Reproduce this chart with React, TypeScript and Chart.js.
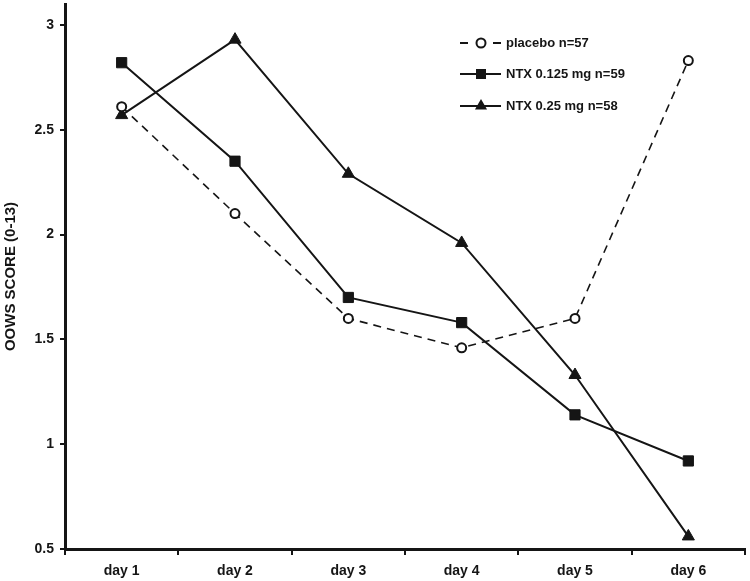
import React, { useEffect, useRef } from "react";
import { Chart, registerables } from "chart.js";

Chart.register(...registerables);

const categories = ["day 1", "day 2", "day 3", "day 4", "day 5", "day 6"];
const placebo = [2.61, 2.1, 1.6, 1.46, 1.6, 2.83];
const ntx0125 = [2.82, 2.35, 1.7, 1.58, 1.14, 0.92];
const ntx025 = [2.57, 2.93, 2.29, 1.96, 1.33, 0.56];
const seriesLabels = ["placebo n=57", "NTX 0.125 mg n=59", "NTX 0.25 mg n=58"];
const yTitle = "OOWS SCORE (0-13)";

const INK = "#151515";
const FONT = "'Liberation Sans', Arial, sans-serif";

function drawMarker(ctx: CanvasRenderingContext2D, kind: string, x: number, y: number) {
  ctx.save();
  ctx.setLineDash([]);
  ctx.strokeStyle = INK;
  ctx.fillStyle = INK;
  ctx.lineWidth = 2;
  ctx.beginPath();
  if (kind === "circle") {
    ctx.fillStyle = "#fff";
    ctx.arc(x, y, 4.5, 0, Math.PI * 2);
    ctx.fill();
    ctx.stroke();
  } else if (kind === "rect") {
    ctx.rect(x - 5, y - 5, 10, 10);
    ctx.fill();
  } else {
    const r = 7;
    ctx.moveTo(x, y - r);
    ctx.lineTo(x + r * 0.866, y + r * 0.5);
    ctx.lineTo(x - r * 0.866, y + r * 0.5);
    ctx.closePath();
    ctx.fill();
  }
  ctx.restore();
}

const legendPlugin = {
  id: "customLegend",
  afterDraw(chart: any) {
    const ctx: CanvasRenderingContext2D = chart.ctx;
    const rows = [
      { label: seriesLabels[0], kind: "circle", dashed: true, y: 43 },
      { label: seriesLabels[1], kind: "rect", dashed: false, y: 74 },
      { label: seriesLabels[2], kind: "triangle", dashed: false, y: 106 },
    ];
    const x0 = 460;
    const x1 = 501;
    const xm = 481;
    rows.forEach((r) => {
      ctx.save();
      ctx.strokeStyle = INK;
      ctx.lineWidth = 2;
      ctx.beginPath();
      if (r.dashed) {
        ctx.moveTo(x0, r.y);
        ctx.lineTo(x0 + 8, r.y);
        ctx.moveTo(x1 - 8, r.y);
        ctx.lineTo(x1, r.y);
      } else {
        ctx.moveTo(x0, r.y);
        ctx.lineTo(x1, r.y);
      }
      ctx.stroke();
      ctx.restore();
      drawMarker(ctx, r.kind, xm, r.y);
      ctx.save();
      ctx.fillStyle = INK;
      ctx.font = `bold 13px ${FONT}`;
      ctx.textBaseline = "middle";
      ctx.textAlign = "left";
      ctx.fillText(r.label, 506, r.y);
      ctx.restore();
    });
  },
};

export default function App() {
  const ref = useRef<HTMLCanvasElement | null>(null);
  useEffect(() => {
    if (!ref.current) return;
    const chart = new Chart(ref.current, {
      type: "line",
      data: {
        labels: categories,
        datasets: [
          {
            label: seriesLabels[0],
            data: placebo,
            borderColor: INK,
            borderWidth: 1.6,
            borderDash: [8, 6],
            pointStyle: "circle",
            pointRadius: 4.5,
            pointBorderWidth: 2,
            pointBackgroundColor: "#fff",
            pointBorderColor: INK,
            tension: 0,
          },
          {
            label: seriesLabels[1],
            data: ntx0125,
            borderColor: INK,
            borderWidth: 2,
            pointStyle: "rect",
            pointRadius: 7.2,
            pointBorderWidth: 1,
            pointBackgroundColor: INK,
            pointBorderColor: INK,
            tension: 0,
          },
          {
            label: seriesLabels[2],
            data: ntx025,
            borderColor: INK,
            borderWidth: 2,
            pointStyle: "triangle",
            pointRadius: 7,
            pointBorderWidth: 1,
            pointBackgroundColor: INK,
            pointBorderColor: INK,
            tension: 0,
          },
        ],
      },
      options: {
        responsive: false,
        animation: false,
        layout: { autoPadding: false, padding: { left: 0, right: 5, top: 4, bottom: 0 } },
        plugins: {
          legend: { display: false },
          tooltip: { enabled: false },
        },
        scales: {
          x: {
            type: "category",
            offset: true,
            grid: {
              offset: true,
              drawOnChartArea: false,
              drawTicks: true,
              tickLength: 6,
              color: INK,
              lineWidth: 2,
            },
            border: { display: true, color: INK, width: 3 },
            ticks: {
              color: INK,
              font: { family: FONT, size: 14, weight: "bold" },
              padding: 8,
              maxRotation: 0,
            },
            afterFit: (s: any) => {
              s.height = 32;
              s.paddingLeft = 0;
              s.paddingRight = 0;
            },
          },
          y: {
            type: "linear",
            min: 0.5,
            max: 3.1,
            grid: {
              drawOnChartArea: false,
              drawTicks: true,
              tickLength: 5,
              color: INK,
              lineWidth: 2,
            },
            border: { display: true, color: INK, width: 3 },
            ticks: {
              stepSize: 0.5,
              color: INK,
              font: { family: FONT, size: 14, weight: "bold" },
              padding: 6,
              callback: (v: any) => String(v),
            },
            afterBuildTicks: (s: any) => {
              s.ticks = s.ticks.filter((t: any) => t.value <= 3.0001);
            },
            title: {
              display: true,
              text: yTitle,
              color: INK,
              font: { family: FONT, size: 15, weight: "bold" },
              padding: { top: 2, bottom: 0 },
            },
            afterFit: (s: any) => {
              s.width = 65;
              s.paddingTop = 0;
              s.paddingBottom = 0;
            },
          },
        },
      },
      plugins: [legendPlugin],
    } as any);
    return () => chart.destroy();
  }, []);
  return (
    <div style={{ position: "absolute", left: 0, top: 0, width: 750, height: 581, background: "#fff" }}>
      <canvas ref={ref} width={750} height={581} />
    </div>
  );
}
